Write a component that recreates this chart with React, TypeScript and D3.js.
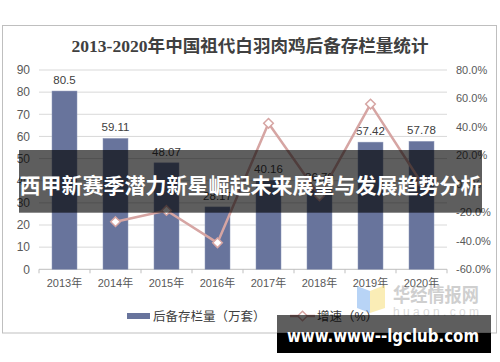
import React from "react";
import * as d3 from "d3";

const years = ["2013年", "2014年", "2015年", "2016年", "2017年", "2018年", "2019年", "2020年"];
const stock = [80.5, 59.11, 48.07, 28.17, 40.16, 36.79, 57.42, 57.78];
const stockLabels = ["80.5", "59.11", "48.07", "28.17", "40.16", "36.79", "57.42", "57.78"];
const growth: (number | null)[] = [null, -26.57, -18.68, -41.4, 42.56, -8.39, 56.07, 0.63];
const leftTicks = [0, 10, 20, 30, 40, 50, 60, 70, 80, 90];
const rightTicks = [-60, -40, -20, 0, 20, 40, 60, 80];

const title = "2013-2020年中国祖代白羽肉鸡后备存栏量统计";
const legendBar = "后备存栏量（万套）";
const legendLine = "增速（%）";
const bannerText = "西甲新赛季潜力新星崛起未来展望与发展趋势分析";
const urlText = "www.www--lgclub.com";

const W = 500;
const H = 362;
const left = 39;
const right = 447;
const top = 70;
const bottom = 269.3;

const BAR = "#68749C";
const LINE = "#D6A5A3";
const FONT = "'Liberation Sans', Arial, 'Noto Sans CJK SC', sans-serif";

export default function App() {
  const x = d3.scaleBand<string>().domain(years).range([left, right]).padding(0);
  const yL = d3.scaleLinear().domain([0, 90]).range([bottom, top]);
  const yR = d3.scaleLinear().domain([-60, 80]).range([bottom, top]);
  const bw = x.bandwidth() * 0.49;
  const cx = (i: number) => (x(years[i]) as number) + x.bandwidth() / 2;

  const linePts: [number, number][] = [];
  growth.forEach((g, i) => {
    if (g !== null) linePts.push([cx(i), yR(g)]);
  });
  const lineGen = d3.line();
  const diamond = "M0,-4.8L4.8,0L0,4.8L-4.8,0Z";

  const boundaries = years.map((y) => x(y) as number).concat([right]);

  return (
    <div style={{ position: "absolute", left: 0, top: 0, width: W, height: H, background: "#fff" }}>
      <svg width={W} height={H} style={{ display: "block" }} fontFamily={FONT}>
        <rect x={0} y={0} width={W} height={H} fill="#fff" />
        {/* outer frame */}
        <rect x={2.5} y={25.5} width={494} height={307.5} fill="#fff" stroke="#BFBFBF" strokeWidth={1} />
        {/* title */}
        <text
          x={250}
          y={52}
          textAnchor="middle"
          fontSize={17}
          fontWeight="bold"
          fill="#404040"
          fontFamily="'Liberation Serif', 'Noto Sans CJK SC', serif"
          textLength={357}
          lengthAdjust="spacingAndGlyphs"
        >
          {title}
        </text>
        {/* grid */}
        {leftTicks.map((t) => (
          <line
            key={"g" + t}
            x1={left}
            x2={right}
            y1={yL(t)}
            y2={yL(t)}
            stroke={t === 0 ? "#BFBFBF" : "#D9D9D9"}
            strokeWidth={1}
          />
        ))}
        {/* x ticks */}
        {boundaries.map((b, i) => (
          <line key={"xt" + i} x1={b} x2={b} y1={bottom} y2={bottom + 4} stroke="#BFBFBF" />
        ))}
        {/* left labels */}
        {leftTicks.map((t) => (
          <text key={"l" + t} x={30} y={yL(t) + 4.3} textAnchor="end" fontSize={12} fill="#595959">
            {t}
          </text>
        ))}
        {/* right labels */}
        {rightTicks.map((t) => (
          <text key={"r" + t} x={456} y={yR(t) + 4} textAnchor="start" fontSize={11} fill="#595959">
            {t.toFixed(1) + "%"}
          </text>
        ))}
        {/* category labels */}
        {years.map((y, i) => (
          <text key={"c" + y} x={cx(i)} y={287} textAnchor="middle" fontSize={11} fill="#595959">
            {y}
          </text>
        ))}
        {/* bars */}
        {stock.map((v, i) => (
          <rect
            key={"b" + i}
            x={cx(i) - bw / 2}
            y={yL(v)}
            width={bw}
            height={bottom - yL(v)}
            fill={BAR}
            stroke="#8E98B8"
            strokeWidth={0.5}
          />
        ))}
        {/* bar labels */}
        {stock.map((v, i) => (
          <text key={"bl" + i} x={cx(i)} y={yL(v) - 7} textAnchor="middle" fontSize={11.5} fill="#404040">
            {stockLabels[i]}
          </text>
        ))}
        {/* growth line */}
        <path d={lineGen(linePts) || ""} fill="none" stroke={LINE} strokeWidth={2.5} strokeLinejoin="round" />
        {linePts.map((p, i) => (
          <path key={"m" + i} d={diamond} transform={`translate(${p[0]},${p[1]})`} fill="#fff" stroke={LINE} strokeWidth={1.5} />
        ))}
        {/* legend */}
        <rect x={127} y={313} width={23} height={6} fill={BAR} />
        <text x={153} y={320.5} fontSize={12.5} fill="#404040">
          {legendBar}
        </text>
        <line x1={290} x2={315} y1={316} y2={316} stroke={LINE} strokeWidth={2.5} />
        <path d={diamond} transform="translate(302.5,316)" fill="#fff" stroke={LINE} strokeWidth={1.5} />
        <text x={317} y={320.5} fontSize={12.5} fill="#404040">
          {legendLine}
        </text>
        {/* watermark */}
        <g opacity={0.55}>
          <path d="M357,286 L370,291 L370,313 L357,308 Z" fill="#7FB2F0" />
          <path d="M370,291 L385,285 L385,308 L370,313 Z" fill="#F6DF7C" />
          <text
            x={393}
            y={302}
            fontSize={19}
            fontWeight="bold"
            fill="#A8A8A8"
            fontFamily="'Noto Sans CJK SC', sans-serif"
            textLength={86}
            lengthAdjust="spacingAndGlyphs"
          >
            华经情报网
          </text>
          <text x={393} y={316} fontSize={12} fill="#BDBDBD" textLength={86} lengthAdjust="spacing">
            huaon.com
          </text>
        </g>
        {/* banner overlay */}
        <rect x={19} y={150} width={463} height={62.7} fill="rgba(0,0,0,0.63)" />
        <text
          x={250.5}
          y={193}
          textAnchor="middle"
          fontSize={21}
          fontWeight="bold"
          fill="#fff"
          fontFamily="'Noto Sans CJK SC', sans-serif"
          textLength={462}
          lengthAdjust="spacingAndGlyphs"
        >
          {bannerText}
        </text>
        {/* url box */}
        <rect x={277} y={315} width={214} height={18} fill="rgba(0,0,0,0.63)" />
        <rect x={277} y={333} width={214} height={20} fill="#000" />
        <text
          x={287}
          y={342}
          fontSize={18}
          fontWeight="bold"
          fill="#fff"
          fontFamily="'DejaVu Sans', 'Noto Sans', sans-serif"
          textLength={192}
          lengthAdjust="spacingAndGlyphs"
        >
          {urlText}
        </text>
      </svg>
    </div>
  );
}
